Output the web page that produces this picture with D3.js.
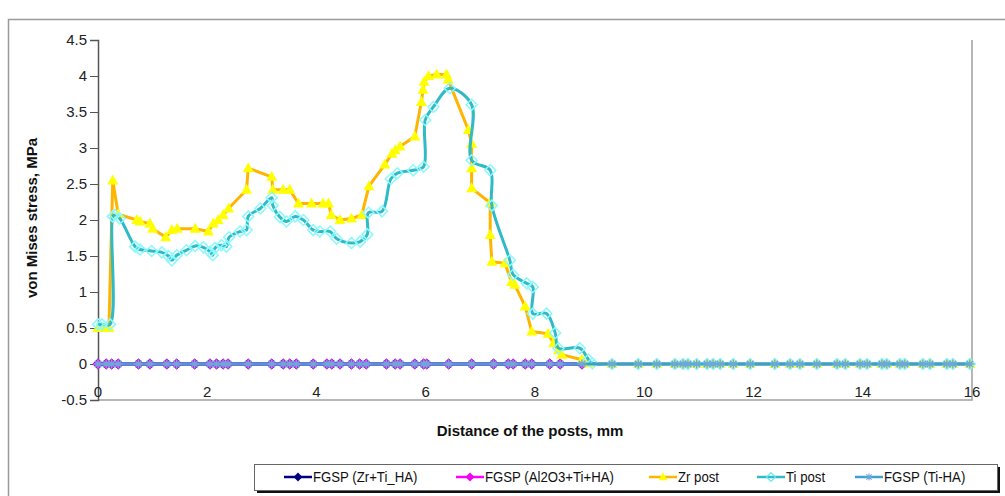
<!DOCTYPE html>
<html>
<head>
<meta charset="utf-8">
<script src="https://cdn.jsdelivr.net/npm/d3@7"></script>
<style>
    body { margin: 0; background: #fff; }
    text { font-family: "Liberation Sans", Arial, sans-serif; }
</style>
</head>
<body>
<div id="chart"></div>
<script>
/*
 von Mises stress along the posts
 */

// x positions (mm) of the FGSP nodes, 0..9
const xFgsp = [0, 0.15, 0.25, 0.37, 0.74, 0.95, 1.26, 1.44, 1.77, 2.05, 2.17, 2.29, 2.38, 2.75, 3.18, 3.39,
    3.51, 3.63, 3.94, 4.19, 4.28, 4.43, 4.64, 4.79, 4.91, 5.28, 5.44, 5.53, 5.80, 5.96, 6.02, 6.42,
    6.84, 7.24, 7.51, 7.60, 7.82, 7.94, 8.27, 8.46, 8.86];
const fgspZeros = [0, 0, 0, 0, 0, 0, 0, 0, 0, 0, 0, 0, 0, 0, 0, 0, 0, 0, 0, 0, 0, 0, 0, 0, 0, 0, 0, 0, 0, 0, 0, 0,
    0, 0, 0, 0, 0, 0, 0, 0, 0];

// x positions beyond the post tip, where everything is 0
const xFar = [9.41, 9.89, 10.23, 10.56, 10.71, 10.80, 10.96, 11.15, 11.26, 11.39, 11.63, 11.94, 12.39, 12.67,
    12.85, 13.16, 13.53, 13.68, 13.95, 14.08, 14.35, 14.44, 14.68, 14.77, 15.10, 15.23, 15.54, 15.65, 15.96];
const farZeros = [0, 0, 0, 0, 0, 0, 0, 0, 0, 0, 0, 0, 0, 0, 0, 0, 0, 0, 0, 0, 0, 0, 0, 0, 0, 0, 0, 0, 0];

// Zr post
const xZr = [0, 0.1, 0.2, 0.27, 0.37, 0.71, 0.77, 0.95, 1.0, 1.24, 1.35, 1.45, 1.78, 2.02, 2.11, 2.2, 2.29,
    2.39, 2.72, 2.75, 3.18, 3.2, 3.39, 3.51, 3.67, 3.91, 4.12, 4.22, 4.27, 4.43, 4.64, 4.83, 4.96, 5.25,
    5.38, 5.44, 5.53, 5.80, 5.92, 5.95, 5.97, 6.05, 6.2, 6.38, 6.41, 6.78, 6.84, 6.84, 6.84, 7.18, 7.18,
    7.21, 7.45, 7.57, 7.63, 7.82, 7.94, 8.24, 8.34, 8.43, 8.49, 8.86, 8.98];
const yZr = [0.5, 0.5, 0.5, 2.55, 2.08, 2.0, 1.98, 1.95, 1.88, 1.76, 1.86, 1.88, 1.88, 1.84, 1.95, 2.0, 2.07,
    2.16, 2.42, 2.72, 2.60, 2.42, 2.42, 2.42, 2.23, 2.23, 2.23, 2.23, 2.07, 2.0, 2.02, 2.07, 2.47, 2.77,
    2.92, 2.97, 3.02, 3.16, 3.64, 3.81, 3.92, 4.0, 4.02, 4.02, 3.95, 3.25, 3.06, 2.72, 2.44, 2.24, 1.79,
    1.42, 1.40, 1.14, 1.10, 0.80, 0.45, 0.42, 0.29, 0.19, 0.13, 0.06, 0.01];

// Ti post
const xTi = [0, 0.07, 0.22, 0.27, 0.31, 0.40, 0.68, 0.77, 0.98, 1.17, 1.29, 1.35, 1.44, 1.62, 1.78, 1.93,
    2.05, 2.10, 2.14, 2.26, 2.35, 2.40, 2.60, 2.72, 2.75, 2.97, 3.18, 3.20, 3.33, 3.45, 3.61, 3.76, 3.94,
    4.06, 4.25, 4.37, 4.64, 4.80, 4.93, 4.95, 5.20, 5.36, 5.48, 5.77, 5.96, 5.99, 6.14, 6.44, 6.84, 6.84,
    7.18, 7.21, 7.54, 7.60, 7.85, 7.96, 7.96, 8.21, 8.37, 8.43, 8.82, 8.98, 9.05];
const yTi = [0.55, 0.55, 0.55, 2.05, 2.07, 2.02, 1.63, 1.59, 1.57, 1.55, 1.50, 1.44, 1.51, 1.58, 1.64, 1.62,
    1.56, 1.51, 1.61, 1.65, 1.63, 1.76, 1.84, 1.86, 2.05, 2.16, 2.31, 2.20, 2.04, 1.98, 2.05, 2.0, 1.86,
    1.84, 1.84, 1.74, 1.68, 1.70, 1.80, 2.10, 2.12, 2.57, 2.65, 2.69, 2.74, 3.39, 3.57, 3.83, 3.60, 2.83,
    2.69, 2.20, 1.44, 1.24, 1.12, 1.07, 0.70, 0.70, 0.43, 0.22, 0.22, 0.06, 0.01];

const yTicks = [-0.5, 0, 0.5, 1, 1.5, 2, 2.5, 3, 3.5, 4, 4.5];
const xTicks = [0, 2, 4, 6, 8, 10, 12, 14, 16];

const seriesNames = ["FGSP (Zr+Ti_HA)", "FGSP (Al2O3+Ti+HA)", "Zr post", "Ti post", "FGSP (Ti-HA)"];


class StressChart {

    constructor(parentElement) {
        this.parentElement = parentElement;
        this.initVis();
    }

    initVis() {
        let vis = this;

        vis.margin = {top: 40, right: 33, bottom: 96, left: 98};
        vis.width = 1005 - vis.margin.left - vis.margin.right;
        vis.height = 496 - vis.margin.top - vis.margin.bottom;

        vis.root = d3.select("#" + vis.parentElement).append("svg")
            .attr("width", 1005)
            .attr("height", 496);

        // outer chart frame
        vis.root.append("rect")
            .attr("x", 8.5).attr("y", 19.5)
            .attr("width", 1100).attr("height", 600)
            .attr("fill", "none")
            .attr("stroke", "#9a9a9a")
            .attr("stroke-width", 1.5);

        vis.svg = vis.root.append("g")
            .attr("transform", "translate(" + vis.margin.left + "," + vis.margin.top + ")");

        vis.x = d3.scaleLinear().domain([0, 16]).range([0, vis.width]);
        vis.y = d3.scaleLinear().domain([-0.5, 4.5]).range([vis.height, 0]);

        // plot border (right and bottom only)
        vis.svg.append("path")
            .attr("d", `M0,${vis.height}H${vis.width}V0`)
            .attr("fill", "none")
            .attr("stroke", "#a0a0a0")
            .attr("stroke-width", 1.5);

        // y axis
        vis.yAxis = d3.axisLeft(vis.y)
            .tickValues(yTicks)
            .tickSize(8)
            .tickPadding(3)
            .tickFormat(d => d);
        vis.svg.append("g")
            .attr("class", "y-axis")
            .call(vis.yAxis)
            .attr("font-size", 15)
            .call(g => g.select(".domain").attr("stroke", "#555").attr("stroke-width", 1.5))
            .call(g => g.selectAll(".tick line").attr("stroke", "#555"))
            .call(g => g.selectAll("text").attr("fill", "#222")
                .style("font-family", "'Liberation Sans', Arial, sans-serif"));

        // x labels sit just above the bottom border
        vis.svg.append("g")
            .selectAll("text")
            .data(xTicks)
            .join("text")
            .attr("x", d => vis.x(d))
            .attr("y", vis.height - 3)
            .attr("text-anchor", "middle")
            .attr("font-size", 15)
            .attr("fill", "#222")
            .text(d => d);

        // axis titles
        vis.svg.append("text")
            .attr("transform", `translate(${-61}, ${vis.height / 2 - 2}) rotate(-90)`)
            .attr("text-anchor", "middle")
            .attr("font-size", 15)
            .attr("font-weight", "bold")
            .attr("fill", "#111")
            .text("von Mises stress, MPa");

        vis.svg.append("text")
            .attr("x", 432)
            .attr("y", vis.height + 36)
            .attr("text-anchor", "middle")
            .attr("font-size", 15)
            .attr("font-weight", "bold")
            .attr("fill", "#111")
            .text("Distance of the posts, mm");

        vis.wrangleData();
    }

    wrangleData() {
        let vis = this;

        const zip = (xs, ys) => xs.map((x, i) => ({x: x, y: ys[i]}));

        vis.displayData = [
            {name: seriesNames[0], line: "#000080", marker: "diamond", mcolor: "#000080",
                pts: zip(xFgsp, fgspZeros), curve: d3.curveLinear},
            {name: seriesNames[1], line: "#ff00ff", marker: "diamond", mcolor: "#f000f0",
                pts: zip(xFgsp, fgspZeros), curve: d3.curveLinear},
            {name: seriesNames[2], line: "#ffb400", marker: "triangle", mcolor: "#ffff00",
                pts: zip(xZr.concat(xFar), yZr.concat(farZeros)), curve: d3.curveLinear},
            {name: seriesNames[3], line: "#2fbac6", marker: "openDiamond", mcolor: "#8cf8fb",
                pts: zip(xTi.concat(xFar), yTi.concat(farZeros)), curve: d3.curveCatmullRom.alpha(0.5)},
            {name: seriesNames[4], line: "#3f9fd2", marker: "star", mcolor: "#6fa8d8",
                pts: zip(xFgsp.concat(xFar), fgspZeros.concat(farZeros)), curve: d3.curveLinear}
        ];

        vis.updateVis();
    }

    drawMarker(sel, type, color) {
        if (type === "triangle") {
            sel.append("path").attr("d", "M0,-6L5.5,4L-5.5,4Z").attr("fill", color);
        } else if (type === "diamond") {
            sel.append("path").attr("d", "M0,-5.5L5.5,0L0,5.5L-5.5,0Z").attr("fill", color);
        } else if (type === "openDiamond") {
            sel.append("path").attr("d", "M0,-5.5L5.5,0L0,5.5L-5.5,0Z")
                .attr("fill", "none").attr("stroke", color).attr("stroke-width", 1.5);
        } else {
            sel.append("path").attr("d", "M-4.5,0H4.5M0,-4.5V4.5M-3.3,-3.3L3.3,3.3M-3.3,3.3L3.3,-3.3")
                .attr("stroke", color).attr("stroke-width", 1.4);
        }
    }

    updateVis() {
        let vis = this;

        vis.displayData.forEach(s => {
            const g = vis.svg.append("g").attr("class", "series");

            g.append("path")
                .datum(s.pts)
                .attr("fill", "none")
                .attr("stroke", s.line)
                .attr("stroke-width", 3)
                .attr("stroke-linejoin", "round")
                .attr("d", d3.line().curve(s.curve).x(d => vis.x(d.x)).y(d => vis.y(d.y)));

            g.selectAll(".mk")
                .data(s.pts)
                .join("g")
                .attr("class", "mk")
                .attr("transform", d => `translate(${vis.x(d.x)},${vis.y(d.y)})`)
                .each(function () { vis.drawMarker(d3.select(this), s.marker, s.mcolor); });
        });

        // legend
        const leg = vis.root.append("g");
        leg.append("rect")
            .attr("x", 257).attr("y", 467).attr("width", 743).attr("height", 26)
            .attr("fill", "#111");
        leg.append("rect")
            .attr("x", 254.5).attr("y", 464.5).attr("width", 743).attr("height", 26)
            .attr("fill", "#fff").attr("stroke", "#666").attr("stroke-width", 1);

        const legX = [284, 456, 649, 757, 855];
        vis.displayData.forEach((s, i) => {
            const item = leg.append("g").attr("transform", `translate(${legX[i]}, 477)`);
            item.append("line")
                .attr("x1", 0).attr("x2", 28)
                .attr("stroke", s.line).attr("stroke-width", 2.5);
            const m = item.append("g").attr("transform", "translate(14,0) scale(0.8)");
            vis.drawMarker(m, s.marker, s.marker === "openDiamond" ? "#5ee8ee" : s.mcolor);
            item.append("text")
                .attr("transform", "translate(29,5) scale(0.88,1)")
                .attr("font-size", 15)
                .attr("fill", "#111")
                .text(s.name);
        });
    }
}

new StressChart("chart");
</script>
</body>
</html>
